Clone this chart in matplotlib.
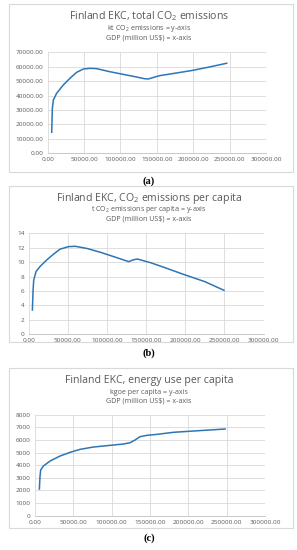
import matplotlib
matplotlib.use("Agg")
import matplotlib.pyplot as plt
from matplotlib.patches import Rectangle

plt.rcParams['font.family'] = ['Open Sans', 'DejaVu Sans']
plt.rcParams['mathtext.fontset'] = 'custom'
plt.rcParams['mathtext.rm'] = 'Open Sans'
plt.rcParams['mathtext.it'] = 'Open Sans'

# ── data (GDP in million US$) ────────────────────────────────────────────
gdp_a = [5500, 6400, 7800, 12300, 21500, 30600, 39700, 48900, 58000, 67000,
         85000, 103700, 122000, 133000, 138000, 153800, 175000, 199500, 222000, 246000]
co2_total = [14600, 31200, 37000, 41600, 47400, 52000, 56100, 58400, 58900, 58700,
             56600, 54700, 52900, 51700, 51500, 53800, 55500, 57500, 59800, 62400]

gdp_b = [4700, 5600, 6400, 9400, 14500, 23000, 31600, 40000, 50900, 59400, 74400,
         91500, 108500, 127800, 133000, 138500, 155600, 175000, 198000, 225000, 249500]
co2_pc = [3.37, 6.15, 7.5, 8.7, 9.4, 10.3, 11.1, 11.8, 12.15, 12.2, 11.9,
          11.37, 10.77, 10.07, 10.3, 10.44, 9.93, 9.2, 8.3, 7.3, 6.1]

gdp_c = [5700, 6500, 7400, 10900, 19600, 32600, 45700, 58700, 76000, 97800, 115000,
         124000, 130400, 137000, 145700, 160000, 180500, 210000, 248000]
energy_pc = [2112, 3090, 3617, 3934, 4330, 4726, 5017, 5254, 5438, 5571, 5676,
             5782, 5993, 6257, 6363, 6450, 6605, 6720, 6867]

x_ticks = [0, 50000, 100000, 150000, 200000, 250000, 300000]

W, H = 297, 550
fig = plt.figure(figsize=(W / 100, H / 100), dpi=100)

line_col = '#2e75b6'
txt_col = '#595959'
grid_col = '#d9d9d9'


def panel(box, axpos, title, sub1, sub2, title_y, caption, cap_y,
          x, y, ymax, ystep, yfmt):
    # outer chart frame (pixel coords from top-left)
    x0, y0, x1, y1 = box
    fig.patches.append(Rectangle((x0 / W, 1 - y1 / H), (x1 - x0) / W, (y1 - y0) / H,
                                 transform=fig.transFigure, fill=False,
                                 edgecolor='#d9d9d9', linewidth=0.8))
    fig.text(149 / W, 1 - title_y[0] / H, title, ha='center', va='center',
             fontsize=7.6, color=txt_col)
    fig.text(149 / W, 1 - title_y[1] / H, sub1, ha='center', va='center',
             fontsize=5.1, color=txt_col)
    fig.text(149 / W, 1 - title_y[2] / H, sub2, ha='center', va='center',
             fontsize=5.1, color=txt_col)
    fig.text(149 / W, 1 - cap_y / H, caption, ha='center', va='center',
             fontsize=7.5, fontweight='bold', family='Liberation Serif', color='black')

    l, r, b, t = axpos
    ax = fig.add_axes([l / W, 1 - b / H, (r - l) / W, (b - t) / H])
    ax.plot(x, y, color=line_col, linewidth=1.1, solid_joinstyle='round')
    ax.set_xlim(0, 300000)
    ax.set_ylim(0, ymax)
    ax.set_xticks(x_ticks)
    ax.set_xticklabels([f'{v:.2f}' for v in x_ticks])
    yt = list(range(0, ymax + 1, ystep))
    ax.set_yticks(yt)
    ax.set_yticklabels([yfmt(v) for v in yt])
    ax.tick_params(length=0, labelsize=4.6, colors=txt_col, pad=3)
    ax.grid(True, color=grid_col, linewidth=0.6)
    ax.set_axisbelow(True)
    for s in ['top', 'right', 'left']:
        ax.spines[s].set_visible(False)
    ax.spines['bottom'].set_color('#bfbfbf')
    ax.spines['bottom'].set_linewidth(0.6)
    return ax


panel((9, 4, 293, 172), (47.7, 266, 153.3, 52.3),
      'Finland EKC, total CO$_2$ emissions',
      'kt CO$_2$ emissions = y-axis', 'GDP (million US$) = x-axis',
      (16.5, 29, 38), '(a)', 181,
      gdp_a, co2_total, 70000, 10000, lambda v: f'{v:.2f}')

panel((9, 186, 293, 342), (28.7, 263.5, 334.3, 233.3),
      'Finland EKC, CO$_2$ emissions per capita',
      't CO$_2$ emissions per capita = y-axis', 'GDP (million US$) = x-axis',
      (198, 209.5, 218.5), '(b)', 353,
      gdp_b, co2_pc, 14, 2, lambda v: f'{v}')

panel((9, 368, 293, 528), (35, 265, 515.7, 414.7),
      'Finland EKC, energy use per capita',
      'kgoe per capita = y-axis', 'GDP (million US$) = x-axis',
      (380, 392, 401), '(c)', 538,
      gdp_c, energy_pc, 8000, 1000, lambda v: f'{v}')

fig.savefig('out.png', dpi=100)
